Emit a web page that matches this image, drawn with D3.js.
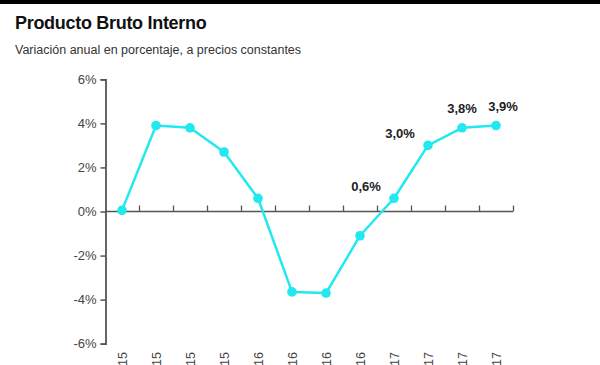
<!DOCTYPE html>
<html><head><meta charset="utf-8">
<script src="https://cdn.jsdelivr.net/npm/d3@7"></script>
<style>body{margin:0;background:#fff;overflow:hidden}svg{display:block}</style>
</head><body>
<script>
const categories = ["I-15","II-15","III-15","IV-15","I-16","II-16","III-16","IV-16","I-17","II-17","III-17","IV-17"];
const values = [0.05, 3.9, 3.8, 2.7, 0.6, -3.65, -3.7, -1.1, 0.6, 3.0, 3.8, 3.9];
const yTicks = [-6, -4, -2, 0, 2, 4, 6];
const labelled = [8, 9, 10, 11];
const labelText = ["0,6%", "3,0%", "3,8%", "3,9%"];

const W = 600, H = 365;
const svg = d3.select("body").append("svg").attr("width", W).attr("height", H);
svg.append("rect").attr("x",0).attr("y",0).attr("width",W).attr("height",4).attr("fill","#000");
svg.append("text").attr("x",15).attr("y",29).attr("font-family","Liberation Sans, Arial, sans-serif")
  .attr("font-weight","bold").attr("font-size",18).attr("fill","#111").attr("letter-spacing","-0.3").text("Producto Bruto Interno");
svg.append("text").attr("x",15).attr("y",54).attr("font-family","Liberation Sans, Arial, sans-serif")
  .attr("font-size",12.5).attr("fill","#333").text("Variación anual en porcentaje, a precios constantes");

const x = d3.scaleBand().domain(categories).range([105, 513]).paddingInner(0).paddingOuter(0);
const y = d3.scaleLinear().domain([-6, 6]).range([343.7, 79.3]);
const cx = d => x(d) + x.bandwidth()/2;
const axisColor = "#555";

// y axis
const ya = svg.append("g").attr("transform","translate(105.5,0)")
  .call(d3.axisLeft(y).tickValues(yTicks).tickFormat(d => d + "%").tickSize(5).tickPadding(4));
ya.select(".domain").attr("stroke",axisColor).attr("stroke-width",1.8);
ya.selectAll(".tick line").attr("stroke",axisColor).attr("stroke-width",1.5);
ya.selectAll(".tick text").attr("font-family","Liberation Sans, Arial, sans-serif").attr("font-size",13).attr("fill","#444");

// x axis at 0
const xa = svg.append("g").attr("transform",`translate(0,${y(0)})`);
xa.append("line").attr("x1",105).attr("x2",513).attr("stroke",axisColor).attr("stroke-width",1.5);
const bounds = categories.map((c,i)=> x(c) + x.bandwidth()).filter((b,i)=>true);
xa.selectAll("line.tk").data(bounds).enter().append("line").attr("class","tk")
  .attr("x1",d=>Math.round(d)+0.5).attr("x2",d=>Math.round(d)+0.5).attr("y1",0).attr("y2",-6)
  .attr("stroke",axisColor).attr("stroke-width",1.3);

// category labels (rotated, cut at bottom)
svg.selectAll("text.cat").data(categories).enter().append("text").attr("class","cat")
  .attr("transform", d => `translate(${cx(d)+4.5},352) rotate(-90)`)
  .attr("text-anchor","end").attr("font-family","Liberation Sans, Arial, sans-serif")
  .attr("font-size",12.5).attr("fill","#444").text(d => d);

// line
const lineColor = "#22e8f0";
const line = d3.line().x((d,i)=>cx(categories[i])).y(d=>y(d));
svg.append("path").datum(values).attr("d",line).attr("fill","none").attr("stroke",lineColor)
  .attr("stroke-width",2.5).attr("stroke-linejoin","round");
svg.selectAll("circle.pt").data(values).enter().append("circle").attr("class","pt")
  .attr("cx",(d,i)=>cx(categories[i])).attr("cy",d=>y(d)).attr("r",4.8).attr("fill",lineColor);

// annotations
const offs = [[-28,-7],[-28,-7],[0,-15],[7,-15]];
svg.selectAll("text.ann").data(labelled).enter().append("text").attr("class","ann")
  .attr("x",(d,i)=>cx(categories[d])+offs[i][0]).attr("y",(d,i)=>y(values[d])+offs[i][1])
  .attr("text-anchor","middle").attr("font-family","Liberation Sans, Arial, sans-serif")
  .attr("font-weight","bold").attr("font-size",13).attr("fill","#222").text((d,i)=>labelText[i]);
</script>
</body></html>
